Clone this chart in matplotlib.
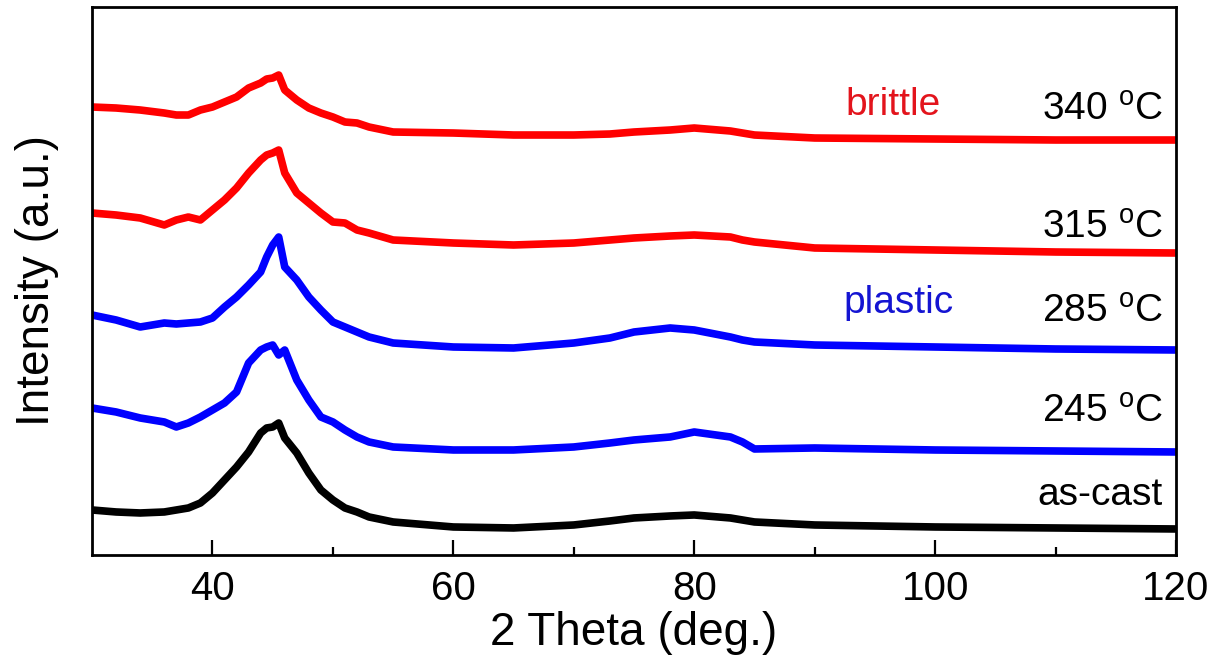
#!/usr/bin/env python3
"""
XRD patterns of the as-cast and annealed glassy samples.
Curves are stacked with a vertical offset (arbitrary units).
"""

import matplotlib
matplotlib.use('Agg')
import matplotlib.pyplot as plt

plt.rcParams['font.family'] = ['Liberation Sans', 'DejaVu Sans']
plt.rcParams['mathtext.default'] = 'regular'

# 2 theta sample points (deg.)
two_theta = [30, 32, 34, 36, 37, 38, 39, 40, 41, 42, 43, 44, 44.5, 45, 45.5,
             46, 47, 48, 49, 50, 51, 52, 53, 55, 60, 65, 70, 73, 75, 78, 80,
             83, 84, 85, 90, 100, 110, 120]

# intensities (a.u., already offset)
i_340 = [448, 447, 445, 442, 440, 440, 445, 448, 453, 458, 467, 472, 476, 477,
         480, 465, 455, 447, 442, 438, 433, 432, 428, 423, 422, 420, 420, 421,
         423, 425, 427, 424, 422, 420, 417, 416, 415, 415]
i_315 = [342, 340, 337, 330, 335, 338, 335, 345, 355, 367, 382, 395, 400, 402,
         405, 382, 362, 352, 342, 333, 332, 325, 322, 315, 312, 310, 312, 315,
         317, 319, 320, 318, 315, 313, 307, 305, 303, 302]
i_285 = [240, 235, 228, 232, 231, 232, 233, 237, 248, 258, 270, 283, 298, 310,
         318, 288, 275, 258, 245, 233, 228, 223, 218, 212, 208, 207, 212, 217,
         223, 227, 225, 218, 215, 213, 210, 208, 206, 205]
i_245 = [147, 143, 137, 133, 128, 132, 138, 145, 152, 163, 192, 205, 208, 210,
         200, 205, 175, 155, 138, 133, 125, 118, 113, 108, 105, 105, 108, 112,
         115, 118, 123, 118, 113, 106, 107, 105, 104, 103]
i_cast = [45, 43, 42, 43, 45, 47, 52, 62, 75, 88, 103, 122, 127, 128, 132,
          117, 102, 82, 65, 55, 47, 43, 38, 33, 28, 27, 30, 34, 37, 39, 40,
          37, 35, 33, 30, 28, 27, 26]

series = [
    (i_340, 'red', '340 $^{o}$C'),
    (i_315, 'red', '315 $^{o}$C'),
    (i_285, '#0000ff', '285 $^{o}$C'),
    (i_245, '#0000ff', '245 $^{o}$C'),
    (i_cast, 'black', 'as-cast'),
]

# label heights (a.u.) for the temperature tags
tag_y = [435, 317, 233, 133, 50]


def make_plot(out_file):
    fig = plt.figure(figsize=(12.22, 6.68), dpi=100)
    ax = fig.add_axes([0.0753, 0.1692, 0.8871, 0.8203])

    for vals, col, _ in series:
        ax.plot(two_theta, vals, color=col, lw=5.5, solid_joinstyle='round')

    for (vals, col, tag), ty in zip(series, tag_y):
        ax.text(118.9, ty, tag, fontsize=28, color='black', ha='right',
                va='baseline')

    ax.text(96.5, 440, 'brittle', fontsize=28, color='#e3141c',
            ha='center', va='baseline')
    ax.text(97.0, 242, 'plastic', fontsize=28, color='#1414d2',
            ha='center', va='baseline')

    ax.set_xlim(30, 120)
    ax.set_ylim(0, 548)
    ax.set_xticks([40, 60, 80, 100, 120])
    ax.set_xticks([50, 70, 90, 110], minor=True)
    ax.set_yticks([])
    ax.tick_params(axis='x', which='major', direction='in', length=11,
                   width=1.6, labelsize=29, pad=11, top=False)
    ax.tick_params(axis='x', which='minor', direction='in', length=6,
                   width=1.6, top=False)
    for sp in ax.spines.values():
        sp.set_linewidth(2.0)

    ax.set_xlabel('2 Theta (deg.)', fontsize=33, labelpad=2)
    ax.set_ylabel('Intensity (a.u.)', fontsize=33, labelpad=24)

    plt.savefig(out_file, dpi=100)
    plt.close()


if __name__ == '__main__':
    make_plot('out.png')
